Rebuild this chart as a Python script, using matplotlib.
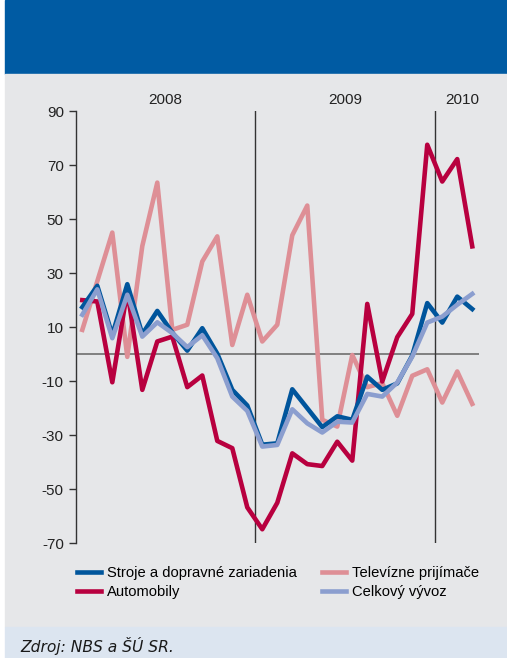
import numpy as np
import matplotlib.pyplot as plt
from matplotlib.patches import Rectangle

# monthly data, Jan 2008 - Mar 2010
months = list(range(27))
stroje = [17.4, 25.3, 7.1, 25.9, 7.4, 16.0, 8.0, 1.3, 9.6, 0.2, -13.2, -19.0, -33.5,
          -33.0, -13.0, -20.0, -27.0, -23.0, -24.3, -8.3, -13.2, -10.8, -0.5,
          18.9, 11.7, 21.3, 16.7]
auto = [20.0, 19.5, -10.4, 23.5, -13.2, 4.7, 6.5, -12.2, -7.9, -32.1, -34.8, -56.7, -64.8,
        -55.0, -36.7, -40.7, -41.4, -32.4, -39.4, 18.6, -10.1, 6.3, 14.9,
        77.5, 63.9, 72.2, 39.9]
tv = [9.0, 27.0, 45.0, -1.0, 40.0, 63.5, 9.0, 10.9, 34.3, 43.6, 3.4, 22.0, 4.7,
      10.9, 44.0, 55.0, -24.3, -26.8, -0.3, -12.2, -10.7, -22.8, -8.0,
      -5.6, -17.9, -6.4, -18.4]
celkovy = [14.6, 24.0, 5.9, 22.0, 6.5, 11.8, 7.8, 2.6, 7.0, -1.5, -15.7, -21.0, -34.2,
           -33.6, -20.4, -25.6, -29.0, -25.0, -25.3, -14.7, -15.7, -10.5, -0.9,
           11.7, 13.9, 18.3, 22.3]

years = ["2008", "2009", "2010"]
year_pos = [5.5, 17.5, 25.3]
year_breaks = [11.5, 23.5]
yticks = [90, 70, 50, 30, 10, -10, -30, -50, -70]

W, H = 507, 658
fig = plt.figure(figsize=(W / 100, H / 100), dpi=100)
fig.patch.set_facecolor("white")

def box(x0, y0, x1, y1, color):
    fig.patches.append(Rectangle((x0 / W, 1 - y1 / H), (x1 - x0) / W, (y1 - y0) / H,
                                 transform=fig.transFigure, color=color, zorder=-10))

box(5, 0, W, 74, "#005BA3")
box(5, 74, W, 627, "#E6E7E9")
box(5, 627, W, H, "#DCE5F0")

ax = fig.add_axes([76.3 / W, 1 - 543.3 / H, (479 - 76.3) / W, (543.3 - 111) / H])
ax.set_facecolor("none")

ax.plot(months, tv, color="#DE8F96", lw=3.3, label="Televízne prijímače", zorder=3)
ax.plot(months, auto, color="#B8003F", lw=3.3, label="Automobily", zorder=4)
ax.plot(months, stroje, color="#00559C", lw=3.3, label="Stroje a dopravné zariadenia", zorder=5)
ax.plot(months, celkovy, color="#8B9ECF", lw=3.3, label="Celkový vývoz", zorder=6)

ax.axhline(0, color="#6E6E6E", lw=1.2, zorder=2)
for b in year_breaks:
    ax.axvline(b, color="#333333", lw=1.0, zorder=2)
for lab, xp in zip(years, year_pos):
    ax.text(xp, 91.5, lab, ha="center", va="bottom", fontsize=11,
            family="Liberation Sans", color="#222222")

ax.set_xlim(-0.4, 26.45)
ax.set_ylim(-70, 90)
ax.set_xticks([])
ax.set_yticks(yticks)
ax.set_yticklabels([str(t) for t in yticks], family="Liberation Sans", fontsize=11, color="#222222")
ax.tick_params(axis="y", length=5, width=1, color="#333333", pad=4)
for s in ["top", "right", "bottom"]:
    ax.spines[s].set_visible(False)
ax.spines["left"].set_color("#333333")
ax.spines["left"].set_linewidth(1.0)

h, l = ax.get_legend_handles_labels()
order = [2, 1, 0, 3]
fig.legend([h[i] for i in order], [l[i] for i in order], ncol=2, frameon=False,
           loc="upper left", bbox_to_anchor=(77 / W, 1 - 566 / H), borderpad=0,
           borderaxespad=0, handlelength=1.6, handletextpad=0.45, columnspacing=1.7,
           labelspacing=0.35, prop={"family": "Liberation Sans", "size": 10.6})

fig.text(20 / W, 1 - 652 / H, "Zdroj: NBS a ŠÚ SR.", family="Liberation Sans Narrow",
         style="italic", fontsize=11.2, color="#1A1A1A", va="baseline")

fig.savefig("out.png", dpi=100, facecolor=fig.get_facecolor())
